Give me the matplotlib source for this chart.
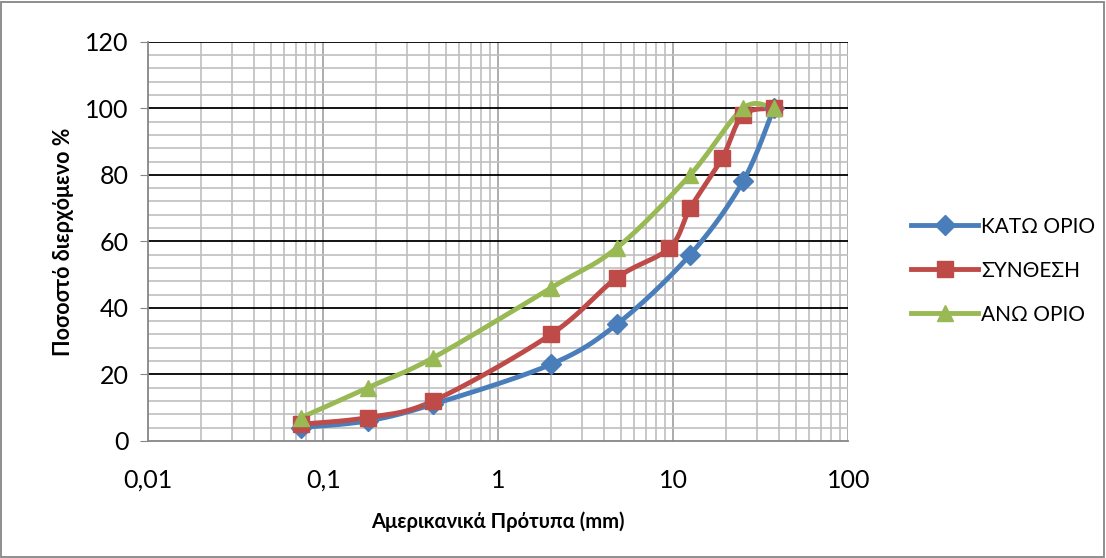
import numpy as np
import matplotlib
matplotlib.use("Agg")
import matplotlib.pyplot as plt
from matplotlib.ticker import FixedLocator, NullFormatter
from matplotlib.lines import Line2D

plt.rcParams['font.family'] = ['Lato', 'Open Sans', 'DejaVu Sans']

# sieve sizes (mm) and passing percentages
x_low = [0.075, 0.18, 0.425, 2, 4.75, 12.5, 25, 37.5]
y_low = [4, 6, 11, 23, 35, 56, 78, 100]

x_mix = [0.075, 0.18, 0.425, 2, 4.75, 9.5, 12.5, 19, 25, 37.5]
y_mix = [5, 7, 12, 32, 49, 58, 70, 85, 98, 100]

x_up = [0.075, 0.18, 0.425, 2, 4.75, 12.5, 25, 37.5]
y_up = [7, 16, 25, 46, 58, 80, 100, 100]

labels = ['ΚΑΤΩ ΟΡΙΟ', 'ΣΥΝΘΕΣΗ', 'ΑΝΩ ΟΡΙΟ']
colors = ['#4A7EBB', '#BE4B48', '#98B954']
markers = ['D', 's', '^']


def smooth(xs, ys, n=30):
    # Excel-style smoothed line: Catmull-Rom in (log x, y)
    p = np.column_stack([np.log10(xs), ys]).astype(float)
    pts = np.vstack([p[0], p, p[-1]])
    out = []
    for i in range(1, len(pts) - 2):
        p0, p1, p2, p3 = pts[i - 1], pts[i], pts[i + 1], pts[i + 2]
        c1 = p1 + (p2 - p0) / 6
        c2 = p2 - (p3 - p1) / 6
        t = np.linspace(0, 1, n)[:, None]
        seg = ((1 - t) ** 3) * p1 + 3 * ((1 - t) ** 2) * t * c1 + 3 * (1 - t) * t ** 2 * c2 + t ** 3 * p2
        out.append(seg if i == 1 else seg[1:])
    out = np.vstack(out)
    return 10 ** out[:, 0], out[:, 1]


fig = plt.figure(figsize=(11.06, 5.58), dpi=100)
ax = fig.add_axes([0.134, 0.21, 0.633, 0.715])

ax.set_xscale('log')
ax.set_xlim(0.01, 100)
ax.set_ylim(0, 120)

# grid
minor_x = [m * 10.0 ** e for e in range(-2, 2) for m in range(2, 10)]
ax.xaxis.set_minor_locator(FixedLocator(minor_x))
ax.xaxis.set_minor_formatter(NullFormatter())
ax.set_xticks([0.01, 0.1, 1, 10, 100])
ax.set_xticklabels(['0,01', '0,1', '1', '10', '100'])
ax.set_yticks(range(0, 121, 20))
ax.yaxis.set_minor_locator(FixedLocator([v for v in range(0, 121, 4) if v % 20]))

for v in minor_x:
    ax.axvline(v, color='#BFBFBF', lw=1.2, zorder=0)
for v in [0.1, 1, 10, 100]:
    ax.axvline(v, color='#A6A6A6', lw=1.3, zorder=0)
for v in range(4, 121, 4):
    if v % 20:
        ax.axhline(v, color='#BFBFBF', lw=1.2, zorder=0)
for v in range(20, 121, 20):
    ax.axhline(v, color='black', lw=1.3, zorder=1)

for s in ['top', 'right']:
    ax.spines[s].set_visible(False)
ax.spines['left'].set_color('#868686')
ax.spines['bottom'].set_color('#868686')
ax.spines['left'].set_linewidth(1.3)
ax.spines['bottom'].set_linewidth(1.3)
ax.tick_params(axis='y', which='major', length=6, color='#868686', labelsize=18, pad=8)
ax.tick_params(axis='y', which='minor', length=0)
ax.tick_params(axis='x', which='both', length=0, labelsize=18, pad=20)

ax.set_xlabel('Αμερικανικά Πρότυπα (mm)', fontsize=14.5, fontweight='bold', labelpad=14)
ax.set_ylabel('Ποσοστό διερχόμενο %', fontsize=15.5, fontweight='bold', labelpad=8)

series = [(x_low, y_low), (x_mix, y_mix), (x_up, y_up)]
msz = [10, 11, 12]
handles = []
for (xs, ys), c, m, lab, ms in zip(series, colors, markers, labels, msz):
    sx, sy = smooth(xs, ys)
    ax.plot(sx, sy, color=c, lw=3.5, zorder=3, solid_capstyle='round', clip_on=False)
    ax.plot(xs, ys, linestyle='none', marker=m, ms=ms, color=c, zorder=4, clip_on=False)
    handles.append(Line2D([], [], color=c, lw=3.5, marker=m, ms=ms, label=lab))

fig.legend(handles=handles, loc='center left', bbox_to_anchor=(0.807, 0.515),
           frameon=False, fontsize=15, handlelength=3.2, handletextpad=0.15,
           labelspacing=1.15)

# chart border
fig.patches.append(plt.Rectangle((0.001, 0.002), 0.997, 0.995, transform=fig.transFigure,
                                 fill=False, edgecolor='#868686', lw=1.3))

fig.savefig('out.png', dpi=100)
